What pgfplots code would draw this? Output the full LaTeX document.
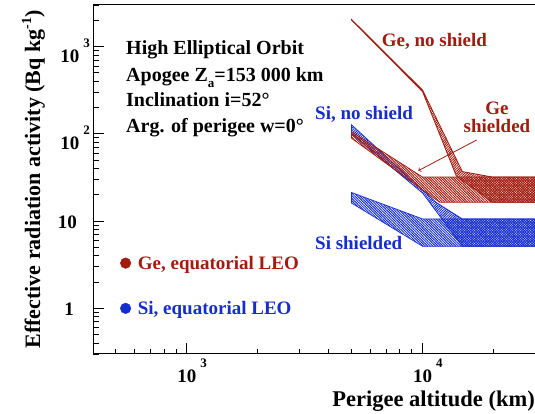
\documentclass[border=0pt]{standalone}
\usepackage{fontspec}
\setmainfont{Liberation Serif}
\usepackage{pgfplots}
\pgfplotsset{compat=1.18}
\usetikzlibrary{patterns.meta}
\definecolor{gecol}{RGB}{160,28,16}
\definecolor{sicol}{RGB}{22,45,205}
\newcommand{\myexp}[1]{\kern4pt\raisebox{15pt}{\fontsize{13}{13}\selectfont #1}}
\begin{document}
\begin{tikzpicture}
\useasboundingbox (-93pt,-60pt) rectangle (442pt,354pt);
\begin{axis}[
  at={(0pt,0pt)}, anchor=south west,
  scale only axis, width=442pt, height=349pt,
  xmode=log, ymode=log,
  xmin=400, xmax=30000, ymin=0.3, ymax=3000,
  axis line style={line width=1pt},
  tick pos=left,
  tick style={black, line width=0.8pt},
  major tick length=11pt, minor tick length=5.5pt,
  xtick={1000,10000},
  xticklabels={{10\rlap{\myexp{3}}},{10\rlap{\myexp{4}}}},
  minor xtick={400,500,600,700,800,900,2000,3000,4000,5000,6000,7000,8000,9000,20000,30000},
  ytick={1,10,100,1000},
  yticklabels={{\smash{\raisebox{-7pt}{1\hspace{16pt}}}},
               {\smash{\raisebox{-7pt}{10\hspace{13pt}}}},
               {\smash{\raisebox{-16pt}{10\myexp{2}}}},
               {\smash{\raisebox{-16pt}{10\myexp{3}}}}},
  minor ytick={0.3,0.4,0.5,0.6,0.7,0.8,0.9,2,3,4,5,6,7,8,9,20,30,40,50,60,70,80,90,200,300,400,500,600,700,800,900,2000,3000},
  xticklabel style={font=\fontsize{19}{19}\selectfont\bfseries, anchor=base, inner sep=0pt, yshift=-29pt},
  yticklabel style={font=\fontsize{19}{19}\selectfont\bfseries, anchor=east, inner sep=0pt, xshift=-3pt},
  xlabel={Perigee altitude (km)},
  xlabel style={font=\fontsize{22.5}{22.5}\selectfont\bfseries, at={(axis description cs:1,-0.149)}, anchor=base east, inner sep=0pt},
  ylabel={Effective radiation activity (Bq kg\raisebox{9pt}{\fontsize{14}{14}\selectfont -1})},
  ylabel style={font=\fontsize{22}{22}\selectfont\bfseries, at={(axis description cs:-0.1199,0.5)}, anchor=base, inner sep=0pt},
]
% Si shielded
\addplot[draw=sicol, line width=0.7pt, pattern={Lines[angle=-45,distance=1.8pt,line width=1pt]}, pattern color=sicol]
  coordinates {(5000,21.3) (10000,10.6) (30000,10.6) (30000,5.15) (10000,5.15) (5000,16.1)} -- cycle;
% Si no shield
\addplot[draw=sicol, line width=0.7pt, pattern={Lines[angle=45,distance=1.8pt,line width=1pt]}, pattern color=sicol]
  coordinates {(5000,127) (11460,16.3) (14750,10.6) (30000,10.6) (30000,5.15) (14750,5.15) (10000,21) (5000,100)} -- cycle;
% Ge shielded
\addplot[draw=gecol, line width=0.7pt, pattern={Lines[angle=-45,distance=1.8pt,line width=1pt]}, pattern color=gecol]
  coordinates {(5000,106) (10000,32) (30000,32) (30000,16.5) (11800,16.5) (5000,89)} -- cycle;
% Ge no shield
\addplot[draw=gecol, line width=0.8pt, pattern={Lines[angle=45,distance=1.8pt,line width=1pt]}, pattern color=gecol]
  coordinates {(5000,2050) (10000,318) (14750,37) (19800,32) (30000,32) (30000,16.5) (19800,16.5) (13900,33) (10000,305) (5000,2010)} -- cycle;
% equatorial LEO points
\addplot[only marks, mark=*, mark size=5.3pt, color=gecol] coordinates {(550,3.3)};
\addplot[only marks, mark=*, mark size=5.3pt, color=sicol] coordinates {(550,1.0)};
\end{axis}
\begin{scope}[font=\fontsize{20}{20}\selectfont\bfseries]
\node[anchor=base west, inner sep=0pt] at (33pt,299pt) {High Elliptical Orbit};
\node[anchor=base west, inner sep=0pt] at (33pt,272.3pt) {Apogee Z\raisebox{-6pt}{\fontsize{13}{13}\selectfont a}=153 000 km};
\node[anchor=base west, inner sep=0pt] at (33pt,247pt) {Inclination i=52°};
\node[anchor=base west, inner sep=0pt] at (33pt,221pt) {Arg. of perigee w=0°};
\end{scope}
\begin{scope}[font=\fontsize{19}{19}\selectfont\bfseries]
\node[anchor=base west, inner sep=0pt, text=gecol] at (288.7pt,307.3pt) {Ge, no shield};
\node[anchor=base, inner sep=0pt, text=gecol] at (404pt,239pt) {Ge};
\node[anchor=base, inner sep=0pt, text=gecol] at (404pt,221.3pt) {shielded};
\node[anchor=base west, inner sep=0pt, text=sicol] at (222pt,234pt) {Si, no shield};
\node[anchor=base west, inner sep=0pt, text=sicol] at (222pt,104pt) {Si shielded};
\node[anchor=base west, inner sep=0pt, text=gecol] at (44.7pt,84pt) {Ge, equatorial LEO};
\node[anchor=base west, inner sep=0pt, text=sicol] at (44.7pt,39pt) {Si, equatorial LEO};
\end{scope}
\draw[gecol, line width=0.8pt, ->] (383.7pt,214pt) -- (325.3pt,183.3pt);
\end{tikzpicture}
\end{document}
